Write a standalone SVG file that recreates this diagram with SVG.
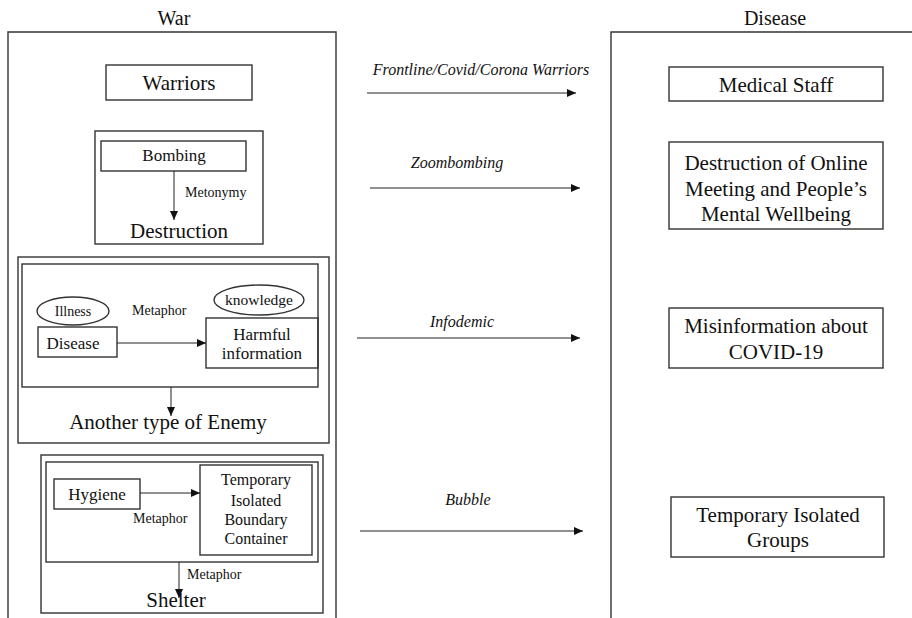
<svg xmlns="http://www.w3.org/2000/svg" width="912" height="618" viewBox="0 0 912 618">
<defs>
<style>
.box{fill:none;stroke:#333;stroke-width:1.4}
.t{font-family:'Liberation Serif','Times New Roman',serif;fill:#111;text-anchor:middle}
.ti{font-family:'Liberation Serif','Times New Roman',serif;fill:#111;text-anchor:middle;font-style:italic;font-size:16px}
.s{font-family:'Liberation Serif','Times New Roman',serif;fill:#111;font-size:14px}
.c{fill:none;stroke:#222;stroke-width:1}
</style>
<marker id="ah" markerUnits="userSpaceOnUse" markerWidth="10" markerHeight="8" refX="9" refY="4" orient="auto">
<path d="M0,0 L9,4 L0,8 Z" fill="#111"/>
</marker>
</defs>
<rect width="912" height="618" fill="#fff"/>

<g id="war-panel">
<text class="t" x="174" y="25" font-size="20">War</text>
<path class="box" d="M8,620 V32 H336 V620"/>
</g>
<g id="disease-panel">
<text class="t" x="775" y="25" font-size="20">Disease</text>
<path class="box" d="M611,620 V32 H914"/>
</g>

<g id="warriors">
<rect class="box" x="106" y="65" width="146" height="35"/>
<text class="t" x="179" y="90" font-size="21">Warriors</text>
</g>

<g id="destruction-group">
<rect class="box" x="95" y="131" width="168" height="113"/>
<text class="t" x="179" y="238" font-size="21">Destruction</text>
<text class="s" x="185" y="197">Metonymy</text>
</g>
<g id="bombing">
<rect class="box" x="101" y="141" width="145" height="30"/>
<text class="t" x="174" y="161" font-size="17">Bombing</text>
</g>

<g id="enemy-group">
<rect class="box" x="18" y="257" width="311" height="186"/>
<text class="t" x="168" y="429" font-size="21">Another type of Enemy</text>
</g>
<g id="enemy-inner">
<rect class="box" x="22" y="264" width="296" height="123"/>
<text class="s" x="132" y="315">Metaphor</text>
</g>
<g id="illness">
<ellipse class="box" cx="73" cy="311" rx="36" ry="14"/>
<text class="t" x="73" y="316" font-size="14">Illness</text>
</g>
<g id="knowledge">
<ellipse class="box" cx="259" cy="300" rx="45" ry="15"/>
<text class="t" x="259" y="305" font-size="15.5">knowledge</text>
</g>
<g id="disease">
<rect class="box" x="38" y="327" width="79" height="30"/>
<text class="t" x="73" y="349" font-size="17">Disease</text>
</g>
<g id="harmful">
<rect class="box" x="206" y="318" width="112" height="50"/>
<text class="t" x="262" y="340" font-size="17">Harmful</text>
<text class="t" x="262" y="359" font-size="17">information</text>
</g>

<g id="shelter-group">
<rect class="box" x="41" y="455" width="282" height="158"/>
<text class="t" x="176" y="607" font-size="21">Shelter</text>
<text class="s" x="187" y="579">Metaphor</text>
</g>
<g id="shelter-inner">
<rect class="box" x="46" y="462" width="272" height="100"/>
<text class="s" x="133" y="523">Metaphor</text>
</g>
<g id="hygiene">
<rect class="box" x="54" y="479" width="86" height="30"/>
<text class="t" x="97" y="500" font-size="17">Hygiene</text>
</g>
<g id="container">
<rect class="box" x="200" y="465" width="112" height="90"/>
<text class="t" x="256" y="485" font-size="16">Temporary</text>
<text class="t" x="256" y="506" font-size="16">Isolated</text>
<text class="t" x="256" y="525" font-size="16">Boundary</text>
<text class="t" x="256" y="544" font-size="16">Container</text>
</g>

<g id="medical-staff">
<rect class="box" x="669" y="67" width="214" height="34"/>
<text class="t" x="776" y="92" font-size="21">Medical Staff</text>
</g>
<g id="online-meeting">
<rect class="box" x="669" y="142" width="214" height="87"/>
<text class="t" x="776" y="170" font-size="21">Destruction of Online</text>
<text class="t" x="776" y="196" font-size="21">Meeting and People’s</text>
<text class="t" x="776" y="221" font-size="21">Mental Wellbeing</text>
</g>
<g id="misinformation">
<rect class="box" x="669" y="308" width="214" height="60"/>
<text class="t" x="776" y="333" font-size="21">Misinformation about</text>
<text class="t" x="776" y="359" font-size="21">COVID-19</text>
</g>
<g id="isolated-groups">
<rect class="box" x="671" y="497" width="213" height="60"/>
<text class="t" x="778" y="522" font-size="21">Temporary Isolated</text>
<text class="t" x="778" y="547" font-size="21">Groups</text>
</g>

<g id="connectors">
<line class="c" x1="174" y1="171" x2="174" y2="220" marker-end="url(#ah)"/>
<line class="c" x1="117" y1="343" x2="206" y2="343" marker-end="url(#ah)"/>
<line class="c" x1="171" y1="387" x2="171" y2="416" marker-end="url(#ah)"/>
<line class="c" x1="140" y1="493" x2="200" y2="493" marker-end="url(#ah)"/>
<line class="c" x1="179" y1="562" x2="179" y2="598" marker-end="url(#ah)"/>
<line class="c" x1="367" y1="93" x2="576" y2="93" marker-end="url(#ah)"/>
<line class="c" x1="370" y1="188" x2="580" y2="188" marker-end="url(#ah)"/>
<line class="c" x1="357" y1="338" x2="580" y2="338" marker-end="url(#ah)"/>
<line class="c" x1="360" y1="531" x2="583" y2="531" marker-end="url(#ah)"/>
<text class="ti" x="481" y="75">Frontline/Covid/Corona Warriors</text>
<text class="ti" x="457" y="168">Zoombombing</text>
<text class="ti" x="462" y="327">Infodemic</text>
<text class="ti" x="468" y="505">Bubble</text>
</g>
</svg>
